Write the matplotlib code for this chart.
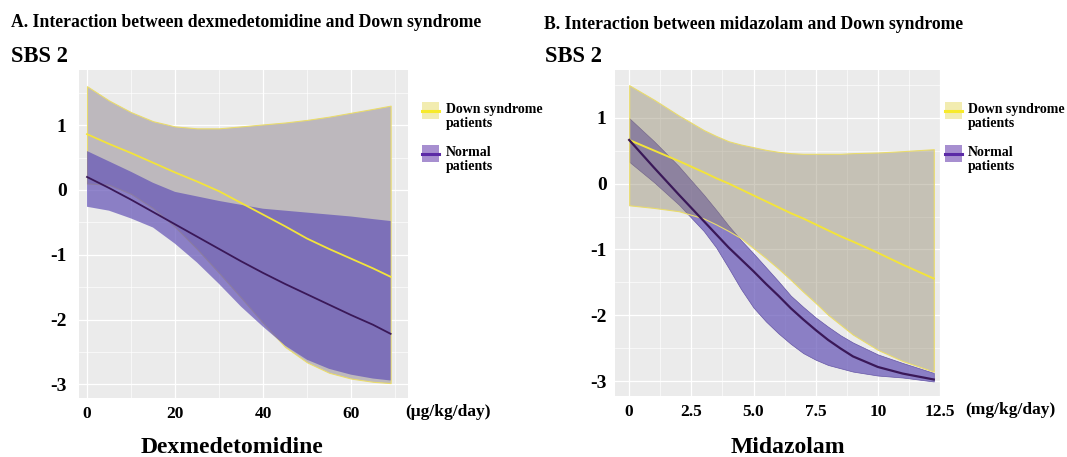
import numpy as np
import matplotlib
matplotlib.use('Agg')
import matplotlib.pyplot as plt
from matplotlib.patches import Rectangle
from matplotlib.lines import Line2D
from matplotlib.ticker import MultipleLocator

plt.rcParams['font.family'] = ['Liberation Serif', 'DejaVu Serif']
plt.rcParams['font.weight'] = 'bold'

# ---- panel A: dexmedetomidine (ug/kg/day)
dex_x = [0, 5, 10, 15, 20, 25, 30, 35, 40, 45, 50, 55, 60, 65, 69]
dex_ds_mean = [0.86, 0.71, 0.57, 0.42, 0.27, 0.13, -0.02, -0.20, -0.38, -0.56, -0.75, -0.91, -1.06, -1.21, -1.34]
dex_ds_upper = [1.60, 1.38, 1.20, 1.06, 0.98, 0.95, 0.95, 0.98, 1.01, 1.04, 1.08, 1.13, 1.19, 1.25, 1.30]
dex_ds_lower = [0.10, 0.08, -0.06, -0.28, -0.57, -0.91, -1.28, -1.66, -2.05, -2.42, -2.66, -2.82, -2.91, -2.96, -2.98]
dex_nm_mean = [0.20, 0.03, -0.15, -0.34, -0.53, -0.72, -0.91, -1.10, -1.28, -1.45, -1.61, -1.77, -1.93, -2.08, -2.22]
dex_nm_upper = [0.60, 0.44, 0.28, 0.11, -0.03, -0.10, -0.17, -0.23, -0.29, -0.32, -0.35, -0.38, -0.41, -0.45, -0.48]
dex_nm_lower = [-0.26, -0.32, -0.44, -0.58, -0.83, -1.12, -1.45, -1.80, -2.11, -2.40, -2.62, -2.76, -2.85, -2.91, -2.94]

# ---- panel B: midazolam (mg/kg/day)
mid_x = [0, 1, 2, 3, 3.5, 4, 4.5, 5, 5.5, 6, 6.5, 7, 7.5, 8, 8.5, 9, 10, 11, 12.25]
mid_ds_mean = [0.66, 0.50, 0.34, 0.17, 0.08, 0.00, -0.09, -0.18, -0.27, -0.36, -0.45, -0.53, -0.62, -0.71, -0.80, -0.88, -1.05, -1.23, -1.44]
mid_ds_upper = [1.49, 1.27, 1.03, 0.81, 0.72, 0.64, 0.59, 0.55, 0.51, 0.48, 0.46, 0.45, 0.45, 0.45, 0.45, 0.46, 0.47, 0.49, 0.52]
mid_ds_lower = [-0.33, -0.37, -0.42, -0.53, -0.62, -0.72, -0.83, -0.98, -1.13, -1.29, -1.46, -1.64, -1.81, -1.99, -2.14, -2.29, -2.52, -2.69, -2.85]
mid_nm_mean = [0.66, 0.24, -0.17, -0.57, -0.77, -0.97, -1.15, -1.33, -1.52, -1.70, -1.89, -2.06, -2.22, -2.37, -2.50, -2.62, -2.78, -2.88, -2.97]
mid_nm_upper = [0.99, 0.64, 0.26, -0.17, -0.40, -0.64, -0.86, -1.06, -1.27, -1.48, -1.70, -1.87, -2.03, -2.17, -2.30, -2.41, -2.59, -2.72, -2.87]
mid_nm_lower = [0.33, 0.02, -0.32, -0.72, -0.97, -1.28, -1.60, -1.88, -2.09, -2.27, -2.43, -2.57, -2.67, -2.75, -2.80, -2.85, -2.91, -2.94, -3.00]

y_ticks = [-3, -2, -1, 0, 1]
dex_ticks = [0, 20, 40, 60]
mid_ticks = [0, 2.5, 5.0, 7.5, 10, 12.5]
mid_tick_labels = ['0', '2.5', '5.0', '7.5', '10', '12.5']
legend_labels = ['Down syndrome\npatients', 'Normal\npatients']

BG = '#ebebeb'
YEL = '#f3e43a'
YEL_EDGE = '#eadc6c'
NM_LINE = '#3a1858'
W, H = 1067, 457


def fx(px):
    return px / W


def fy(py):
    return 1 - py / H


def style(ax, xminor):
    ax.set_facecolor(BG)
    for s in ax.spines.values():
        s.set_visible(False)
    ax.xaxis.set_minor_locator(MultipleLocator(xminor))
    ax.yaxis.set_minor_locator(MultipleLocator(0.5))
    ax.grid(which='major', color='white', lw=0.9)
    ax.grid(which='minor', color='white', lw=0.45)
    ax.set_axisbelow(True)
    ax.tick_params(which='both', length=0)
    ax.set_yticks(y_ticks)
    ax.set_yticklabels([str(v) for v in y_ticks], fontsize=14)


def legend(fig, key_x, text_x):
    keys = [('#f2ecb0', '#f7ea2a'), ('#a78fd0', '#5b2aa6')]
    for i, (fill, line) in enumerate(keys):
        top = 102 + 43 * i
        fig.add_artist(Rectangle((fx(key_x), fy(top + 17)), fx(17), 17 / H,
                                 transform=fig.transFigure, facecolor=fill, edgecolor='none'))
        fig.add_artist(Line2D([fx(key_x), fx(key_x + 17)], [fy(top + 8.5)] * 2,
                              transform=fig.transFigure, color=line, lw=2.2))
        fig.text(fx(text_x), fy(top + 1), legend_labels[i], fontsize=10, ha='left', va='top',
                 linespacing=1.12)


fig = plt.figure(figsize=(W / 100, H / 100), dpi=100)
axA = fig.add_axes([fx(79), fy(398), fx(329), 328 / H])
axB = fig.add_axes([fx(615), fy(396), fx(325), 326 / H])

# panel A
style(axA, 10)
axA.fill_between(dex_x, dex_ds_lower, dex_ds_upper, facecolor='#bdb8bd',
                 edgecolor=YEL_EDGE, lw=0.8, zorder=2)
axA.fill_between(dex_x, dex_nm_lower, dex_nm_upper, facecolor=(0.384, 0.322, 0.714, 0.7),
                 edgecolor='none', zorder=3)
axA.plot(dex_x, dex_ds_mean, color=YEL, lw=1.3, zorder=4)
axA.plot(dex_x, dex_nm_mean, color=NM_LINE, lw=1.3, zorder=5)
axA.set_xlim(-1.82, 72.95)
axA.set_ylim(-3.21, 1.85)
axA.set_xticks(dex_ticks)
axA.set_xticklabels([str(v) for v in dex_ticks], fontsize=12.5)
axA.tick_params(axis='y', pad=9)
axA.tick_params(axis='x', pad=6)

# panel B
style(axB, 1.25)
axB.fill_between(mid_x, mid_nm_lower, mid_nm_upper, facecolor=(0.384, 0.322, 0.714, 0.7),
                 edgecolor='#6555a6', lw=0.5, zorder=2)
axB.fill_between(mid_x, mid_ds_lower, mid_ds_upper, facecolor=(0.57, 0.53, 0.42, 0.42),
                 edgecolor=YEL_EDGE, lw=0.8, zorder=3)
axB.plot(mid_x, mid_ds_mean, color=YEL, lw=1.4, zorder=4)
axB.plot(mid_x, mid_nm_mean, color=NM_LINE, lw=1.6, zorder=5)
axB.set_xlim(-0.57, 12.43)
axB.set_ylim(-3.22, 1.72)
axB.set_xticks(mid_ticks)
axB.set_xticklabels(mid_tick_labels, fontsize=12.5)
axB.tick_params(axis='y', pad=6)
axB.tick_params(axis='x', pad=6)

legend(fig, 422, 446)
legend(fig, 945, 968)

# titles and labels
fig.text(fx(11), fy(27), 'A. Interaction between dexmedetomidine and Down syndrome',
         fontsize=12.7, ha='left', va='baseline')
fig.text(fx(544), fy(29), 'B. Interaction between midazolam and Down syndrome',
         fontsize=12.7, ha='left', va='baseline')
fig.text(fx(11), fy(61.5), 'SBS 2', fontsize=16.3, ha='left', va='baseline')
fig.text(fx(545), fy(61.5), 'SBS 2', fontsize=16.3, ha='left', va='baseline')
fig.text(fx(405), fy(411.5), '(\u03bcg/kg/day)', fontsize=12.5, ha='left', va='center')
fig.text(fx(965), fy(410), '(mg/kg/day)', fontsize=12.5, ha='left', va='center')
fig.text(fx(232), fy(453), 'Dexmedetomidine', fontsize=17, ha='center', va='baseline')
fig.text(fx(788), fy(453), 'Midazolam', fontsize=17, ha='center', va='baseline')

fig.savefig('out.png', dpi=100, facecolor='white')
